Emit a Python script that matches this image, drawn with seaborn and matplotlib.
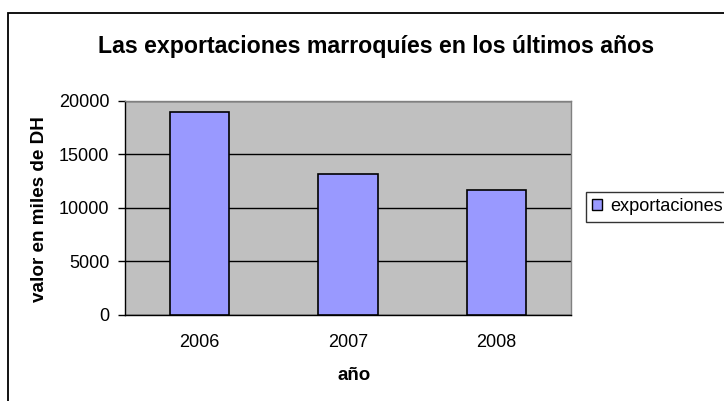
import matplotlib
matplotlib.use("Agg")
import matplotlib.pyplot as plt
import seaborn as sns
import pandas as pd
from matplotlib.patches import Rectangle, Patch

years = ["2006", "2007", "2008"]
exportaciones = [18900, 13150, 11680]
series_name = "exportaciones"
title = "Las exportaciones marroquíes en los últimos años"
xlabel = "año"
ylabel = "valor en miles de DH"
yticks = [0, 5000, 10000, 15000, 20000]

sns.set_style("white")
plt.rcParams["font.family"] = ["Liberation Sans", "DejaVu Sans"]
plt.rcParams["text.color"] = "black"
plt.rcParams["xtick.color"] = "black"
plt.rcParams["ytick.color"] = "black"
plt.rcParams["axes.labelcolor"] = "black"

df = pd.DataFrame({"año": years, "valor": exportaciones})

W, H = 724, 401
fig = plt.figure(figsize=(W / 100, H / 100), dpi=100)
fig.patch.set_facecolor("white")

# outer chart border
fig.add_artist(Rectangle((8 / W, -0.05), 1.2, 1 - 13 / H + 0.05, transform=fig.transFigure,
                         fill=False, edgecolor="black", linewidth=1.3, clip_on=False))

ax = fig.add_axes([125.3 / W, 1 - 314.7 / H, (570.7 - 125.3) / W, (314.7 - 100.7) / H])
sns.barplot(data=df, x="año", y="valor", color="#9999FF", edgecolor="black",
            linewidth=1.2, width=0.4, ax=ax, label=series_name, zorder=3, saturation=1)
ax.set_facecolor("#C0C0C0")
ax.set_ylim(0, 20000)
ax.set_xlim(-0.5, 2.5)
ax.set_yticks(yticks)
ax.set_yticklabels([str(v) for v in yticks], fontsize=13, color="black")
ax.yaxis.grid(True, color="black", linewidth=1.0, zorder=1)
ax.set_axisbelow(True)
ax.set_xticks(range(len(years)))
ax.set_xticklabels(years, fontsize=13, color="black")
ax.set_xticks([-0.5, 0.5, 1.5, 2.5], minor=True)
ax.tick_params(axis="x", which="major", length=0, pad=14)
ax.tick_params(axis="x", which="minor", length=5, width=1, color="black", direction="out")
ax.tick_params(axis="y", length=5, width=1, color="black", direction="out", pad=6.5, left=True)
for side in ["top", "right"]:
    ax.spines[side].set_color("#808080")
    ax.spines[side].set_linewidth(1)
for side in ["left", "bottom"]:
    ax.spines[side].set_color("black")
    ax.spines[side].set_linewidth(1)
ax.set_xlabel("")
ax.set_ylabel("")

fig.text(376 / W, 1 - 47 / H, title, ha="center", va="center", fontsize=16.7,
         fontweight="bold", color="black")
fig.text(354 / W, 1 - 375 / H, xlabel, ha="center", va="center", fontsize=13.5,
         fontweight="bold", color="black")
fig.text(40 / W, 1 - 209.5 / H, ylabel, ha="center", va="center", rotation=90,
         fontsize=13.6, fontweight="bold", color="black")

handle = Patch(facecolor="#9999FF", edgecolor="black", linewidth=1)
leg = fig.legend(handles=[handle], labels=[series_name], loc="upper left",
                 bbox_to_anchor=(586 / W, 1 - 192 / H), frameon=True, fancybox=False,
                 fontsize=13.1, handlelength=0.55, handleheight=0.55, handletextpad=0.45,
                 borderpad=0.35, borderaxespad=0, labelcolor="black")
leg.get_frame().set_edgecolor("black")
leg.get_frame().set_linewidth(1)
if ax.get_legend() is not None:
    ax.get_legend().remove()

fig.savefig("out.png", dpi=100)
